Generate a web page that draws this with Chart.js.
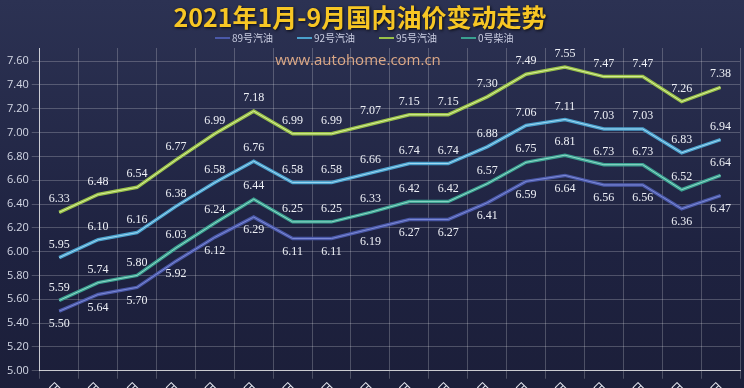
<!DOCTYPE html>
<html>
<head>
<meta charset="utf-8">
<script src="https://cdn.jsdelivr.net/npm/chart.js@4/dist/chart.umd.min.js"></script>
<style>
  html, body { margin: 0; padding: 0; overflow: hidden; background: #23284a; }
  #wrap { width: 744px; height: 420px; position: relative;
    background: linear-gradient(#2c3253, #1e2240 60%, #1b1e38); }
</style>
</head>
<body>
<div id="wrap"><canvas id="oil"></canvas></div>
<script>
const dates = ['1月1日','1月15日','1月29日','2月18日','3月3日','3月17日','3月31日','4月15日','4月29日',
  '5月14日','5月28日','6月11日','6月28日','7月12日','7月26日','8月9日','8月23日','9月6日'];
const gas89 = [5.50,5.64,5.70,5.92,6.12,6.29,6.11,6.11,6.19,6.27,6.27,6.41,6.59,6.64,6.56,6.56,6.36,6.47];
const gas92 = [5.95,6.10,6.16,6.38,6.58,6.76,6.58,6.58,6.66,6.74,6.74,6.88,7.06,7.11,7.03,7.03,6.83,6.94];
const gas95 = [6.33,6.48,6.54,6.77,6.99,7.18,6.99,6.99,7.07,7.15,7.15,7.30,7.49,7.55,7.47,7.47,7.26,7.38];
const diesel0 = [5.59,5.74,5.80,6.03,6.24,6.44,6.25,6.25,6.33,6.42,6.42,6.57,6.75,6.81,6.73,6.73,6.52,6.64];

const titleText = '2021年1月-9月国内油价变动走势';
const names = ['89号汽油', '92号汽油', '95号汽油', '0号柴油'];
const colors = ['#4a58a8', '#4aa0cc', '#98c048', '#3aa090'];
const highlight = ['#7d8ad6', '#9fd8f2', '#d8ef9a', '#8fd8c8'];
// label offset: negative = above the point
const labelPos = [13, -13, -13, -13];

const decor = {
  id: 'decor',
  afterDatasetsDraw(chart) {
    const ctx = chart.ctx;
    chart.data.datasets.forEach((ds, i) => {
      const pts = chart.getDatasetMeta(i).data;
      ctx.save();
      ctx.strokeStyle = highlight[i];
      ctx.lineWidth = 1;
      ctx.beginPath();
      pts.forEach((p, j) => j ? ctx.lineTo(p.x, p.y) : ctx.moveTo(p.x, p.y));
      ctx.stroke();
      ctx.fillStyle = '#eef0f6';
      ctx.font = '12px "Liberation Serif", serif';
      ctx.textAlign = 'center';
      ctx.textBaseline = 'middle';
      pts.forEach((p, j) => {
        ctx.fillText(ds.data[j].toFixed(2), p.x, p.y + labelPos[i]);
      });
      ctx.restore();
    });
  },
  afterDraw(chart) {
    const ctx = chart.ctx;
    ctx.save();
    // title
    ctx.textAlign = 'center';
    ctx.textBaseline = 'middle';
    ctx.font = 'bold 25px "Noto Sans CJK SC"';
    ctx.shadowColor = 'rgba(0,0,0,0.8)';
    ctx.shadowBlur = 3;
    ctx.shadowOffsetX = 1;
    ctx.shadowOffsetY = 1;
    ctx.fillStyle = '#f7c624';
    ctx.fillText(titleText, 360, 17);
    ctx.shadowColor = 'transparent';
    // legend
    ctx.font = '10px "Noto Sans CJK SC"';
    ctx.textAlign = 'left';
    names.forEach((n, i) => {
      const x = 215 + i * 82;
      ctx.strokeStyle = colors[i];
      ctx.lineWidth = 2;
      ctx.beginPath();
      ctx.moveTo(x, 38);
      ctx.lineTo(x + 15, 38);
      ctx.stroke();
      ctx.fillStyle = '#c8cce0';
      ctx.fillText(n, x + 17, 38);
    });
    // watermark
    ctx.fillStyle = '#dca886';
    ctx.font = '15px "Open Sans", sans-serif';
    ctx.textAlign = 'center';
    ctx.fillText('www.autohome.com.cn', 358, 61);
    ctx.restore();
  }
};

const series = [gas89, gas92, gas95, diesel0];

new Chart('oil', {
  type: 'line',
  data: {
    labels: dates,
    datasets: series.map((d, i) => ({
      label: names[i], data: d, borderColor: colors[i], backgroundColor: colors[i]
    }))
  },
  options: {
    responsive: true,
    maintainAspectRatio: false,
    animation: false,
    elements: {
      line: { borderWidth: 3.5, tension: 0 },
      point: { radius: 0, hoverRadius: 0 }
    },
    layout: { padding: { left: 4, right: 4, top: 48 } },
    plugins: {
      tooltip: { enabled: false },
      legend: { display: false }
    },
    scales: {
      x: {
        offset: true,
        grid: { color: 'rgba(255,255,255,0.22)', offset: true },
        border: { color: 'rgba(255,255,255,0.7)' },
        ticks: {
          color: '#e8eaf2',
          padding: 0,
          font: { family: '"Noto Sans CJK SC"', size: 12 },
          maxRotation: 45, minRotation: 45, autoSkip: false
        }
      },
      y: {
        min: 5,
        max: 7.71,
        grid: { color: 'rgba(255,255,255,0.22)' },
        border: { color: 'rgba(255,255,255,0.7)' },
        ticks: {
          stepSize: 0.2,
          includeBounds: false,
          color: '#d4d8e6',
          font: { family: '"Open Sans", sans-serif', size: 11 },
          callback: v => v.toFixed(2)
        }
      }
    }
  },
  plugins: [decor]
});
</script>
</body>
</html>
